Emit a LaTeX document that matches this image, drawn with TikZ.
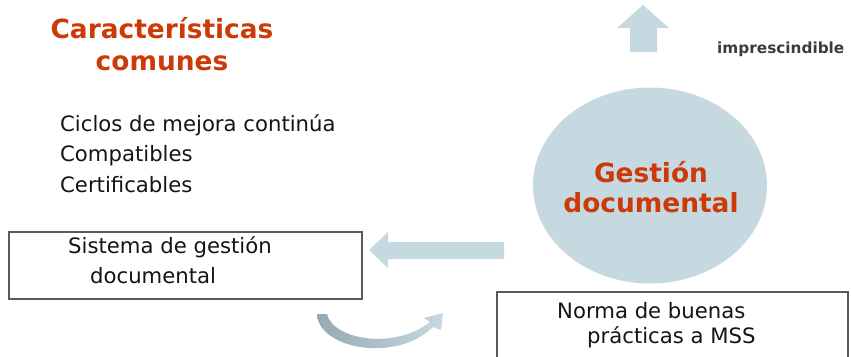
\documentclass[tikz,border=0pt]{standalone}
\usepackage{fontspec}
\setmainfont{DejaVu Sans}
\usetikzlibrary{shapes.geometric}
\definecolor{ttl}{RGB}{204,58,8}
\definecolor{pale}{RGB}{198,216,224}
\definecolor{paledark}{RGB}{150,170,180}
\definecolor{frame}{RGB}{90,90,90}
\definecolor{txt}{RGB}{20,20,20}
\tikzset{
  titletext/.style={anchor=base, text=ttl, font=\fontsize{26.4}{26.4}\selectfont\bfseries, inner sep=0},
  bodytext/.style={anchor=base west, text=txt, font=\fontsize{21.2}{21.2}\selectfont, inner sep=0},
  boxframe/.style={draw=frame, line width=1.2pt, fill=white},
  palefill/.style={fill=pale, draw=none},
}
\begin{document}
\begin{tikzpicture}[x=1pt,y=-1pt]
\useasboundingbox (0,0) rectangle (851,356);
% title
\node[titletext] (t1) at (162,38) {Características};
\node[titletext] (t2) at (162,70) {comunes};
% list
\node[bodytext] (l1) at (60,131) {Ciclos de mejora continúa};
\node[bodytext] (l2) at (60,161) {Compatibles};
\node[bodytext] (l3) at (60,192) {Certificables};
% ellipse
\node[palefill, ellipse, minimum width=234, minimum height=196, inner sep=0] (ell) at (650,185.5) {};
\node[titletext] (g1) at (651,182) {Gestión};
\node[titletext] (g2) at (651,212) {documental};
% up arrow
\coordinate (ua) at (643,5);
\path[palefill] (ua) -- (669,28) -- (657,28) -- (657,52) -- (630,52) -- (630,28) -- (617,28) -- cycle;
\node[anchor=base west, inner sep=0, text={rgb,255:red,60;green,60;blue,60}, font=\fontsize{15.3}{15.3}\selectfont\bfseries] (imp) at (717,53) {imprescindible};
% left arrow
\coordinate (la) at (369,250);
\path[palefill] (la) -- (388,232) -- (388,242) -- (504,242) -- (504,259) -- (388,259) -- (388,268) -- cycle;
% box 1
\draw[boxframe] (9,232) rectangle (362,299);
\node[bodytext] (s1) at (68,253) {Sistema de gestión};
\node[bodytext] (s2) at (90,283) {documental};
% box 2
\draw[boxframe] (497,292) rectangle (848,360);
\node[bodytext] (n1) at (557,318) {Norma de buenas};
\node[bodytext] (n2) at (587,343) {prácticas a MSS};
% curved arrow
\shade[left color=paledark, right color=pale]
  (317,314) .. controls (318,348) and (395,364) .. (433,327)
  -- (441,330) -- (443,313) -- (424,318) -- (430,322)
  .. controls (395,350) and (333,340) .. (327,314) -- cycle;
\end{tikzpicture}
\end{document}
